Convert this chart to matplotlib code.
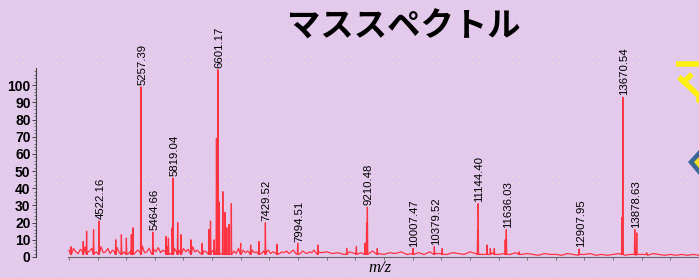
import numpy as np
import matplotlib
matplotlib.use('Agg')
import matplotlib.pyplot as plt
from matplotlib.patches import Polygon

# mass spectrum data
label_mz = [4522.16, 5257.39, 5464.66, 5819.04, 6601.17, 7429.52, 7994.51, 9210.48,
            10007.47, 10379.52, 11144.40, 11636.03, 12907.95, 13670.54, 13878.63]
label_int = [21, 99, 14.5, 46, 109, 20, 8, 29, 5, 6, 31, 16, 4.7, 93, 16]

# unlabelled peaks
other_mz = [4036, 4250, 4309, 4430, 4817, 4916, 5003, 5090, 5118, 5697, 5737, 5801,
            5899, 5958, 6131, 6327, 6444, 6472, 6536, 6576, 6623, 6687, 6727, 6756,
            6796, 6836, 6999, 7173, 7317, 7635, 8346, 8850, 9018, 9169, 9197, 9383,
            10517, 11136, 11298, 11357, 11426, 11617, 11860, 13654, 13913, 14087]
other_int = [6, 9, 15, 16, 10, 13, 11, 13, 17, 12, 11, 17,
             20, 13, 10, 8, 16, 21, 10, 69, 32, 38, 26, 17,
             19, 31, 8, 7, 9, 7.5, 7, 5, 6, 8, 20, 5,
             5, 16, 7, 5, 5, 10, 3, 23, 14, 2.5]

# baseline noise, 4000-8400 every 40 Da, then 8500-15000 every 100 Da
noise_a = [4, 2.5, 5, 3, 2, 4.5, 3, 6, 2.5, 3.5,
           5, 2, 3, 4, 6, 2.5, 3, 5, 2, 4,
           3, 5.5, 2.5, 4, 3, 6, 2, 3.5, 5, 2.5,
           4, 3, 6.5, 2.5, 3, 5, 2, 4.5, 3, 5.5,
           2.5, 4, 3, 6, 2, 3.5, 5, 3, 4, 2.5,
           5, 3, 4.5, 2, 6, 3, 4, 2.5, 5, 3.5,
           3, 5, 2.5, 4, 3, 5.5, 2, 4, 3, 5,
           2.5, 4, 3.5, 2, 5, 3, 4, 2.5, 3.5, 2,
           4, 2.5, 3, 5, 2, 3.5, 2.5, 4, 2, 3,
           2.5, 4, 2, 3, 2.5, 3.5, 2, 3, 4, 2,
           3, 2, 3.5, 2.5, 2, 3, 2.5, 4, 2, 3,
           2.5]
noise_b = [3, 2, 2.5, 1.5, 3, 2, 2.5, 2, 3.5, 2,
           1.5, 2.5, 2, 3, 1.5, 2, 2.5, 1.5, 3, 2,
           2, 1.5, 2.5, 2, 1.5, 3, 2, 1.5, 2, 2.5,
           1.5, 2, 1.5, 2.5, 1.5, 2, 1.5, 1, 2, 1.5,
           1.5, 1, 2, 1.5, 1, 1.5, 2, 1, 1.5, 1,
           1.5, 2, 1, 1.5, 1, 1.5, 1, 2, 1.5, 1,
           1.5, 1, 1.5, 1, 1.5, 1]

title = 'マススペクトル'
bg = '#e3c9ec'
red = '#ff3340'

# build the trace: baseline + narrow peaks
base_mz = list(np.arange(4000, 8401, 40)) + list(np.arange(8500, 15001, 100))
base_int = noise_a + noise_b
pk_mz = label_mz + other_mz
pk_int = label_int + other_int
w = 7
pts = list(zip(base_mz, base_int))
for m, h in zip(pk_mz, pk_int):
    pts += [(m - w, 1.5), (m, h), (m + w, 1.5)]
pts.sort()
trace_mz = [p[0] for p in pts]
trace_int = [p[1] for p in pts]

W, H = 699, 278
fig = plt.figure(figsize=(W / 100, H / 100), dpi=100)
fig.patch.set_facecolor(bg)

# faint dotted slide background
dx, dy = np.meshgrid(np.arange(3, W, 6.7), np.arange(3, H, 7.5))
bgax = fig.add_axes([0, 0, 1, 1], zorder=-1)
bgax.set_xlim(0, W)
bgax.set_ylim(H, 0)
bgax.axis('off')
bgax.scatter(dx.ravel(), dy.ravel(), s=0.6, c='#f4ecc8', alpha=0.7, linewidths=0)

# clipped slide decorations on the right
bgax.plot([676, 699], [64, 64], color='#ffef10', lw=4, solid_capstyle='butt')
bgax.plot([681, 699, 699], [79, 96, 100], color='#ffef10', lw=4)
bgax.plot([684, 690], [82, 76], color='#ffef10', lw=4)
bgax.add_patch(Polygon([[688, 162], [699, 150], [699, 175]], closed=True,
                       facecolor='#3b6696', edgecolor='none'))
bgax.add_patch(Polygon([[694, 162], [699, 157], [699, 168]], closed=True,
                       facecolor='#f2e020', edgecolor='none'))

ax = fig.add_axes([68 / W, 21 / H, 1 - 68 / W, 189 / H])
ax.set_facecolor('none')
ax.plot(trace_mz, trace_int, color=red, lw=0.9)
ax.set_xlim(3984, 14937)
ax.set_ylim(0, 110)

for m, h in zip(label_mz, label_int):
    ax.text(m + 25, h + 1, '{:.2f}'.format(m), rotation=90, ha='center', va='bottom',
            fontsize=8.2, family='Liberation Sans', color='black')

for s in ['top', 'right']:
    ax.spines[s].set_visible(False)
# spine offset is in points: 32 px -> 23 pt
ax.spines['left'].set_position(('outward', 23))
ax.spines['left'].set_color('#444444')
ax.spines['left'].set_linewidth(0.8)
ax.spines['bottom'].set_color('#666666')
ax.spines['bottom'].set_linewidth(0.8)

ax.set_xticks(np.arange(4000, 15001, 500))
ax.set_xticklabels([])
ax.tick_params(axis='x', direction='out', length=2.5, width=0.6, color='#666666')
ax.set_yticks(np.arange(0, 101, 10))
ax.set_yticks(np.arange(0, 109, 2), minor=True)
ax.tick_params(axis='y', which='major', direction='out', length=3, width=0.7,
               color='#444444', pad=1)
ax.tick_params(axis='y', which='minor', direction='out', length=1.5, width=0.5,
               color='#444444')
for t in ax.get_yticklabels():
    t.set_fontfamily('Liberation Sans')
    t.set_fontweight('bold')
    t.set_fontsize(10)

fig.text(380 / W, 1 - 268 / H, 'm/z', ha='center', va='center', fontsize=12,
         family='Liberation Serif', style='italic')

fig.text(404 / W, 1 - 27 / H, title, ha='center', va='center', fontsize=24,
         fontweight='bold', family=['Noto Sans CJK JP', 'DejaVu Sans'])

fig.savefig('out.png', dpi=100, facecolor=bg)
